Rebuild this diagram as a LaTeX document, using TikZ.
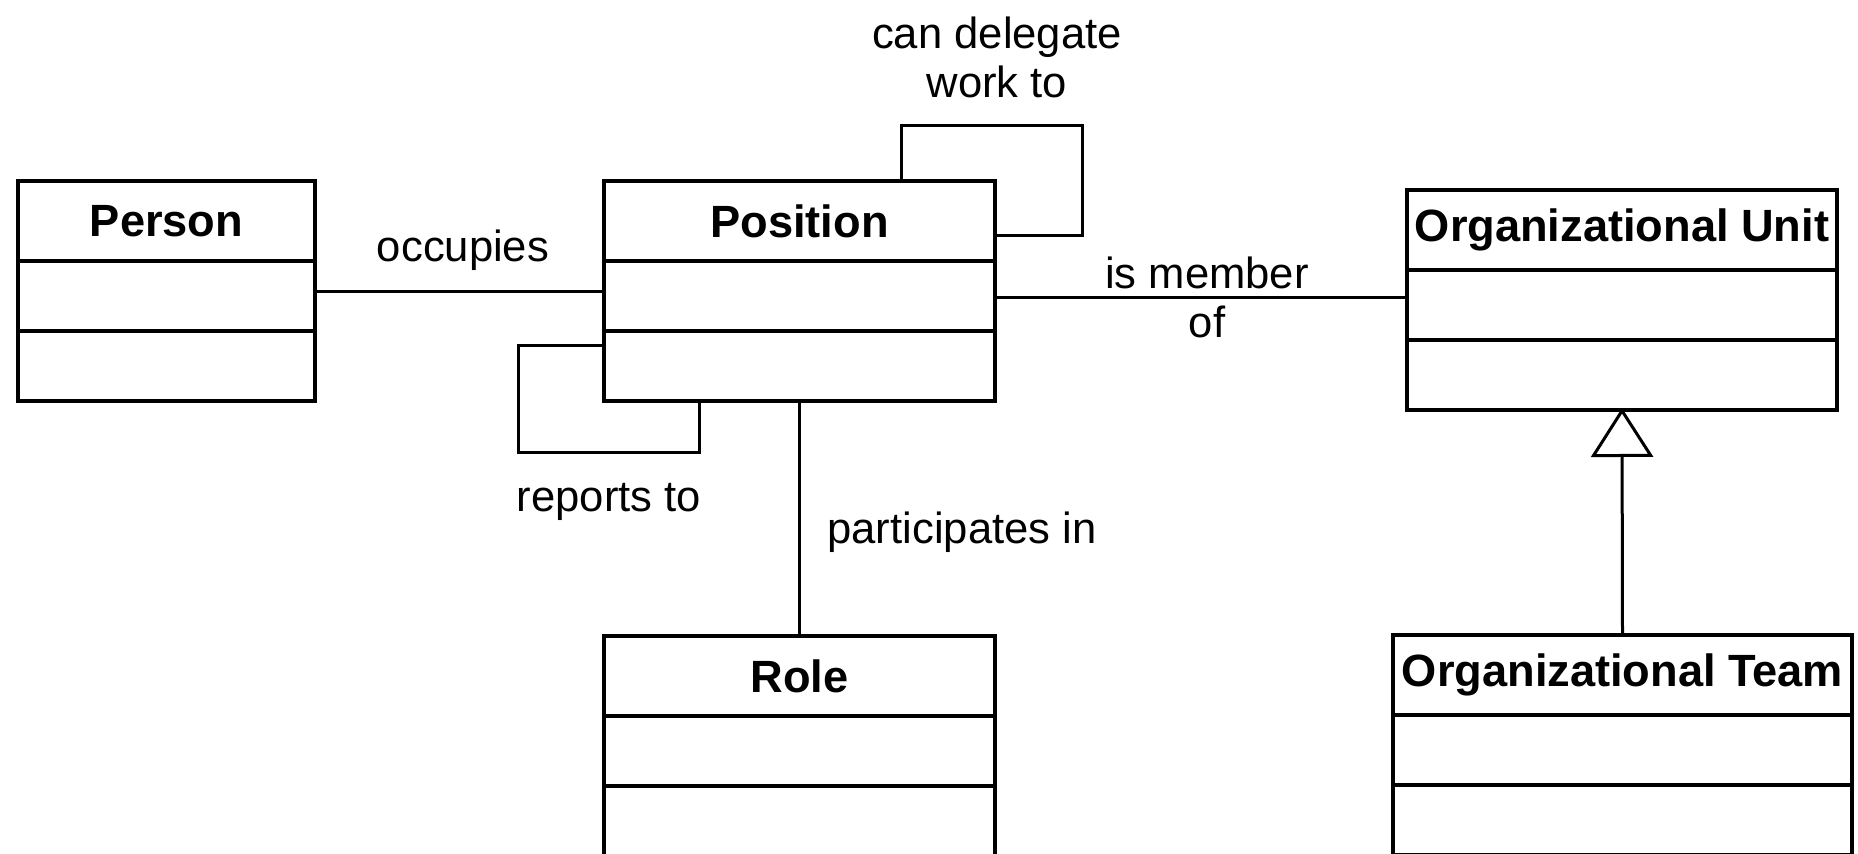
\documentclass[tikz,border=0pt]{standalone}
\usepackage{fontspec}
\setmainfont{Liberation Sans}
\usepackage{tikz}
\usetikzlibrary{positioning, arrows.meta}

\begin{document}
\begin{tikzpicture}[
    x=0.5pt, y=-0.5pt,
    classtitle/.style={rectangle, draw, line width=1.6pt, outer sep=0pt, inner sep=2pt, minimum height=40pt, font=\fontsize{22.6}{27}\selectfont\bfseries},
    classslot/.style={rectangle, draw, line width=1.6pt, outer sep=0pt, minimum height=35pt},
    assoc/.style={line width=1.5pt},
    inherit/.style={line width=1.5pt, shorten >=-1pt, -{Triangle[open, length=24.5pt, width=31pt]}},
    assoclabel/.style={align=center, inner sep=0pt, font=\fontsize{21.8}{24.5}\selectfont}
]
\useasboundingbox (0,0) rectangle (1858,854);
\clip (0,0) rectangle (1858,854);

% classes
\node[classtitle, minimum width=148.5pt, anchor=north west] (person) at (18,181) {Person};
\node[classslot, minimum width=148.5pt, below=0pt of person] (person-a) {};
\node[classslot, minimum width=148.5pt, below=0pt of person-a] (person-b) {};

\node[classtitle, minimum width=195.5pt, anchor=north west] (position) at (604,181) {Position};
\node[classslot, minimum width=195.5pt, below=0pt of position] (position-a) {};
\node[classslot, minimum width=195.5pt, below=0pt of position-a] (position-b) {};

\node[classtitle, minimum width=215pt, anchor=north west] (unit) at (1407,190) {Organizational Unit};
\node[classslot, minimum width=215pt, below=0pt of unit] (unit-a) {};
\node[classslot, minimum width=215pt, below=0pt of unit-a] (unit-b) {};

\node[classtitle, minimum width=195.5pt, anchor=north west] (role) at (604,636) {Role};
\node[classslot, minimum width=195.5pt, below=0pt of role] (role-a) {};
\node[classslot, minimum width=195.5pt, below=0pt of role-a] (role-b) {};

\node[classtitle, minimum width=229.5pt, anchor=north west] (team) at (1393,635) {Organizational Team};
\node[classslot, minimum width=229.5pt, below=0pt of team] (team-a) {};
\node[classslot, minimum width=229.5pt, below=0pt of team-a] (team-b) {};

% associations
\draw[assoc] ([yshift=2pt]person-a.east) -- ([yshift=2pt]position-a.west);
\draw[assoc] ([yshift=-1pt]position-a.east) -- ([yshift=-1pt]position-a.east -| unit-a.west);
\draw[assoc] (position-b.south) -- (role.north);
\draw[assoc] ([xshift=-47pt]position.north east) -- ++(0,27.5pt)
    -| ([xshift=43.5pt,yshift=-7.5pt]position.east) -- ([yshift=-7.5pt]position.east);
\draw[assoc] ([yshift=10.25pt]position-b.west) -- ++(-43pt,0)
    |- ([xshift=47.5pt,yshift=-26pt]position-b.south west) -- ([xshift=47.5pt]position-b.south west);
\draw[inherit] (team.north) -- (unit-b.south);

% labels
\node[assoclabel] (occupies) at (463,250) {occupies};
\node[assoclabel] (delegate) at (997,57) {can delegate\\work to};
\node[assoclabel] (member) at (1207,297) {is member\\of};
\node[assoclabel] (reports) at (609,502) {reports to};
\node[assoclabel] (participates) at (962,532) {participates in};
\end{tikzpicture}
\end{document}
